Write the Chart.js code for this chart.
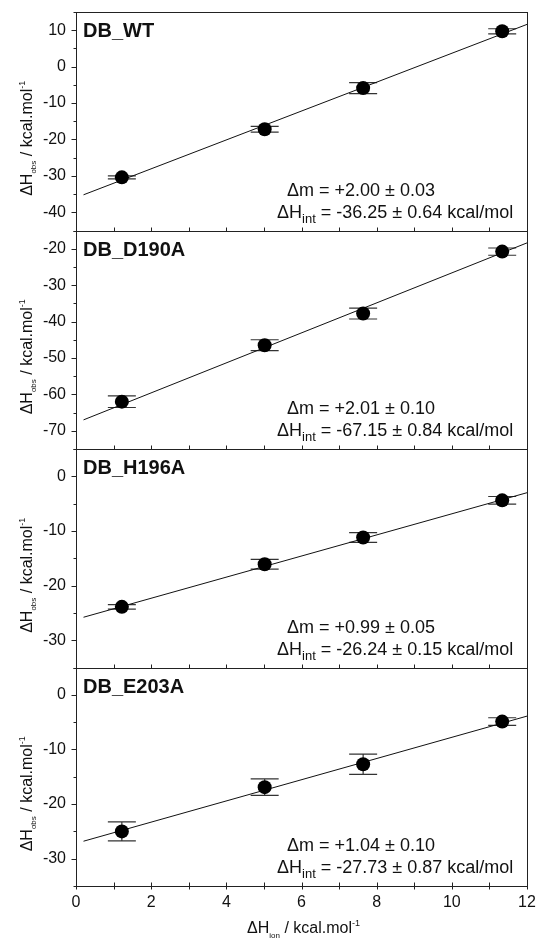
<!DOCTYPE html>
<html>
<head>
<meta charset="utf-8">
<script src="https://cdn.jsdelivr.net/npm/chart.js@4/dist/chart.umd.min.js"></script>
<style>
  html, body { margin: 0; padding: 0; background: #fff; }
  canvas { display: block; }
</style>
</head>
<body>
<canvas id="chart" width="544" height="947"></canvas>
<script>
// --- data ---
const xIon = [1.22, 5.02, 7.64, 11.34];
const panelNames = ['DB_WT', 'DB_D190A', 'DB_H196A', 'DB_E203A'];

const yWT = [-30.4, -17.2, -5.9, 9.7];
const errWT = [0.4, 0.8, 1.5, 0.7];
const yD190A = [-62.0, -46.5, -37.8, -20.8];
const errD190A = [1.6, 1.5, 1.5, 1.0];
const yH196A = [-23.9, -16.1, -11.2, -4.4];
const errH196A = [0.4, 0.9, 0.9, 0.7];
const yE203A = [-25.0, -16.9, -12.7, -4.9];
const errE203A = [1.75, 1.5, 1.85, 0.7];

// fitted lines, end points
const fitX = [0.2, 12];
const fitWT = [-35.2, 11.6];
const fitD190A = [-67.0, -18.4];
const fitH196A = [-25.8, -3.0];
const fitE203A = [-26.8, -3.9];

const yMins = [-45, -75, -35, -35];
const yMaxs = [15, -15, 5, 5];

const slopeTexts = ['+2.00 \u00b1 0.03', '+2.01 \u00b1 0.10', '+0.99 \u00b1 0.05', '+1.04 \u00b1 0.10'];
const intTexts = ['-36.25 \u00b1 0.64 kcal/mol', '-67.15 \u00b1 0.84 kcal/mol', '-26.24 \u00b1 0.15 kcal/mol', '-27.73 \u00b1 0.87 kcal/mol'];

const allY = [yWT, yD190A, yH196A, yE203A];
const allErr = [errWT, errD190A, errH196A, errE203A];
const allFit = [fitWT, fitD190A, fitH196A, fitE203A];

const FONT = '"Liberation Sans", Arial, Helvetica, sans-serif';
const INK = '#111';

// --- helpers ---
function drawRich(ctx, parts, x, y) {
    // parts: {t, size, dy, bold}; x,y = left/baseline
    let cx = x;
    parts.forEach(p => {
        ctx.font = (p.bold ? 'bold ' : '') + p.size + 'px ' + FONT;
        ctx.fillText(p.t, cx, y + (p.dy || 0));
        cx += ctx.measureText(p.t).width;
    });
}

function richWidth(ctx, parts) {
    let w = 0;
    parts.forEach(p => {
        ctx.font = (p.bold ? 'bold ' : '') + p.size + 'px ' + FONT;
        w += ctx.measureText(p.t).width;
    });
    return w;
}

const yLabelParts = [
    { t: '\u0394H', size: 16 },
    { t: 'obs', size: 8, dy: 4 },
    { t: ' / kcal.mol', size: 16 },
    { t: '-1', size: 9, dy: -7 }
];
const xLabelParts = [
    { t: '\u0394H', size: 16 },
    { t: 'ion', size: 8, dy: 5 },
    { t: ' / kcal.mol', size: 16 },
    { t: '-1', size: 9, dy: -7 }
];

const panelPlugin = {
    id: 'panels',
    beforeDatasetsDraw(chart) {
        const ctx = chart.ctx;
        const xs = chart.scales.x;
        ctx.save();
        ctx.strokeStyle = '#333';
        ctx.lineWidth = 1.2;
        allY.forEach((vals, i) => {
            const ys = chart.scales['y' + i];
            vals.forEach((v, j) => {
                const px = xs.getPixelForValue(xIon[j]);
                const top = ys.getPixelForValue(v + allErr[i][j]);
                const bot = ys.getPixelForValue(v - allErr[i][j]);
                ctx.beginPath();
                ctx.moveTo(px, top); ctx.lineTo(px, bot);
                ctx.moveTo(px - 14, top); ctx.lineTo(px + 14, top);
                ctx.moveTo(px - 14, bot); ctx.lineTo(px + 14, bot);
                ctx.stroke();
            });
        });
        ctx.restore();
    },
    afterDraw(chart) {
        const ctx = chart.ctx;
        const area = chart.chartArea;
        const xs = chart.scales.x;
        ctx.save();
        ctx.strokeStyle = '#222';
        ctx.lineWidth = 1;
        ctx.fillStyle = INK;
        panelNames.forEach((name, i) => {
            const ys = chart.scales['y' + i];
            const t = Math.round(ys.top) + 0.5, b = Math.round(ys.bottom) + 0.5;
            const l = Math.round(area.left) + 0.5, r = Math.round(area.right) + 0.5;
            ctx.strokeRect(l, t, r - l, b - t);
            // y ticks every 5, outward
            ctx.beginPath();
            for (let v = Math.ceil(ys.min / 5) * 5; v <= ys.max; v += 5) {
                const py = Math.round(ys.getPixelForValue(v)) + 0.5;
                ctx.moveTo(l, py);
                ctx.lineTo(l - (v % 10 === 0 ? 5 : 3), py);
            }
            // x ticks on the panel's bottom edge
            for (let v = 0; v <= 12; v++) {
                const px = Math.round(xs.getPixelForValue(v)) + 0.5;
                ctx.moveTo(px, b - 4);
                ctx.lineTo(px, b + (i === 3 ? 3 : 0));
            }
            ctx.stroke();

            // panel name
            ctx.textAlign = 'left';
            ctx.textBaseline = 'alphabetic';
            ctx.font = 'bold 20px ' + FONT;
            ctx.fillText(name, 83, ys.top + 25);

            // fit results
            drawRich(ctx, [{ t: '\u0394m = ' + slopeTexts[i], size: 18 }], 287, ys.bottom - 35);
            drawRich(ctx, [
                { t: '\u0394H', size: 18 },
                { t: 'int', size: 13, dy: 5 },
                { t: ' = ' + intTexts[i], size: 18 }
            ], 277, ys.bottom - 13);

            // y axis title
            const w = richWidth(ctx, yLabelParts);
            ctx.save();
            ctx.translate(32, (ys.top + ys.bottom) / 2 + 17);
            ctx.rotate(-Math.PI / 2);
            drawRich(ctx, yLabelParts, -w / 2, 0);
            ctx.restore();
        });
        // x axis title
        const wx = richWidth(ctx, xLabelParts);
        drawRich(ctx, xLabelParts, (area.left + area.right) / 2 - wx / 2 + 2, 933);
        ctx.restore();
    }
};

const datasets = [];
allY.forEach((vals, i) => {
    datasets.push({
        type: 'scatter',
        data: xIon.map((x, j) => ({ x: x, y: vals[j] })),
        yAxisID: 'y' + i,
        pointRadius: 7,
        pointHoverRadius: 7,
        backgroundColor: '#000',
        borderColor: '#000',
        borderWidth: 0
    });
    datasets.push({
        type: 'line',
        data: fitX.map((x, j) => ({ x: x, y: allFit[i][j] })),
        yAxisID: 'y' + i,
        borderColor: '#111',
        borderWidth: 1,
        pointRadius: 0,
        fill: false
    });
});

const scales = {
    x: {
        type: 'linear',
        min: 0, max: 12,
        grid: { display: false, drawTicks: false },
        border: { display: false },
        ticks: {
            stepSize: 1,
            autoSkip: false,
            maxRotation: 0,
            padding: 7,
            color: INK,
            font: { family: FONT, size: 16 },
            callback: v => (v % 2 === 0 ? String(v) : '')
        },
        afterFit: s => { s.height = 61; }
    }
};
// stacked axes are laid out bottom-up, so add the bottom panel first
for (let i = panelNames.length - 1; i >= 0; i--) {
    scales['y' + i] = {
        type: 'linear',
        position: 'left',
        stack: 'panels',
        stackWeight: 1,
        min: yMins[i], max: yMaxs[i],
        grid: { display: false, drawTicks: false },
        border: { display: false },
        ticks: {
            stepSize: 5,
            autoSkip: false,
            padding: 10,
            color: INK,
            font: { family: FONT, size: 16 },
            callback: v => (v % 10 === 0 ? String(v) : '')
        },
        afterFit: s => {
            s.width = 76;
            s.paddingTop = 0;
            s.paddingBottom = 0;
        }
    };
}

new Chart(document.getElementById('chart').getContext('2d'), {
    type: 'scatter',
    data: { datasets: datasets },
    options: {
        responsive: false,
        animation: false,
        devicePixelRatio: 1,
        layout: { padding: { left: 0, right: 17, top: 12, bottom: 0 } },
        plugins: { legend: { display: false }, tooltip: { enabled: false } },
        scales: scales
    },
    plugins: [panelPlugin]
});
</script>
</body>
</html>
